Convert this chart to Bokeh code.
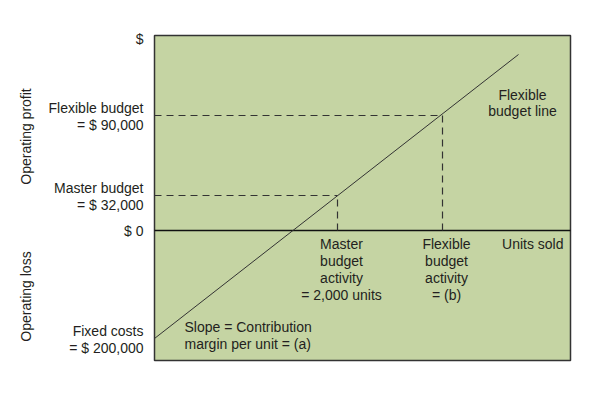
from math import pi
from bokeh.plotting import figure
from bokeh.models import Range1d
from bokeh.core.properties import value
from bokeh.embed import file_html
from bokeh.resources import INLINE

# Schematic diagram units (x: units-sold axis, y: operating profit axis, 0 = breakeven)
line_x = [0, 364]            # flexible budget line start / end (units axis)
line_y = [-108, 176]         # operating profit at start (fixed costs) / end
level_names = ["Flexible budget", "Master budget", "$ 0", "Fixed costs"]
level_values = ["= $ 90,000", "= $ 32,000", "", "= $ 200,000"]
level_y = [115, 35, 0, -108]
activity_x = [183, 288]      # master activity, flexible activity
activity_y = [35, 115]
activity_labels = [["Master", "budget", "activity", "= 2,000 units"],
                   ["Flexible", "budget", "activity", "= (b)"]]
panel = dict(left=0, right=416, bottom=-130, top=195)   # diagram area

FONT = "Liberation Sans"
TXT = "#231f20"
FS = "14px"

p = figure(width=590, height=400, output_backend="svg", toolbar_location=None,
           x_range=Range1d(-154, 436), y_range=Range1d(-170, 230),
           min_border=0)
p.xaxis.visible = False
p.yaxis.visible = False
p.grid.visible = False
p.background_fill_color = "white"
p.border_fill_color = "white"
p.outline_line_color = None

# diagram area
p.quad(left=[panel["left"]], right=[panel["right"]], bottom=[panel["bottom"]], top=[panel["top"]],
       fill_color="#c5d4a3", line_color="#333333", line_width=1.5)

# zero line
p.line([panel["left"], panel["right"]], [0, 0], line_color="#111111", line_width=1.5)

# dashed guides
for ax, ay in zip(activity_x, activity_y):
    p.line([panel["left"], ax], [ay, ay], line_color="#333333", line_width=1.2, line_dash="7 5")
    p.line([ax, ax], [0, ay], line_color="#333333", line_width=1.2, line_dash="7 5")

# flexible budget line
p.line(line_x, line_y, line_color="#333333", line_width=1)

def lab(x, y, text, align="left", angle=0):
    p.text(x=[x], y=[y], text=[text], text_font=value(FONT), text_font_size=value(FS),
           text_color=TXT, text_align=align, text_baseline="middle", angle=angle)

# left labels
lab(-11, 192, "$", "right")
for name, val, ly in zip(level_names, level_values, level_y):
    if val:
        lab(-11, ly + 8, name, "right")
        lab(-11, ly - 9, val, "right")
    else:
        lab(-11, ly, name, "right")

lab(-129, 94, "Operating profit", "center", angle=pi / 2)
lab(-129, -66, "Operating loss", "center", angle=pi / 2)

# activity labels under axis
for ax, lines in zip(activity_x, activity_labels):
    for i, t in enumerate(lines):
        lab(ax + 4, -13 - 17 * i, t, "center")

lab(409, -13, "Units sold", "right")
lab(368, 136, "Flexible", "center")
lab(368, 120, "budget line", "center")
lab(30, -96, "Slope = Contribution", "left")
lab(30, -113, "margin per unit = (a)", "left")

open("out.html", "w").write(file_html(p, INLINE))
